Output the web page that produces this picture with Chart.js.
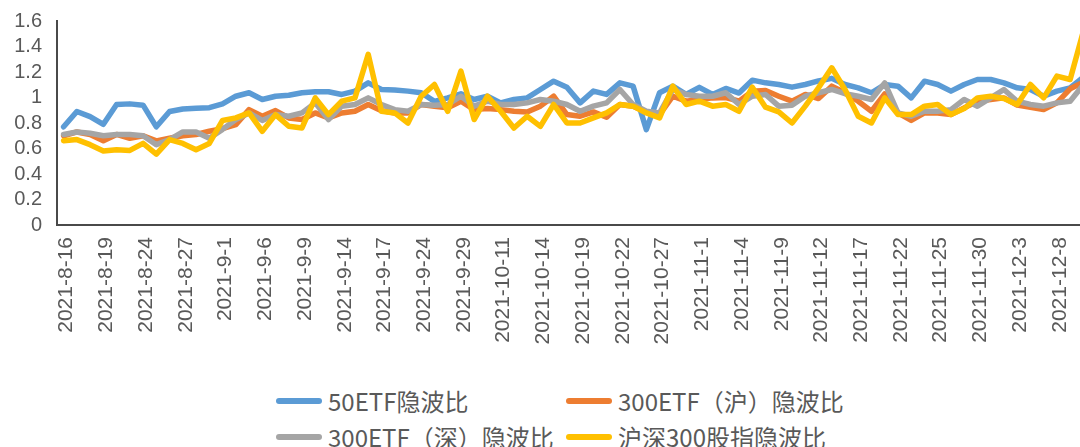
<!DOCTYPE html>
<html>
<head>
<meta charset="utf-8">
<script src="https://cdn.jsdelivr.net/npm/chart.js@4.4.1/dist/chart.umd.min.js"></script>
<style>
  html, body { margin: 0; padding: 0; background: #fff; }
  #wrap { position: relative; width: 1080px; height: 447px; overflow: hidden; background: #fff; }
  #box { position: absolute; left: 0; top: 0; width: 1090px; height: 345px; }
  .lg { position: absolute; font-family: "Noto Sans CJK SC", "Noto Sans", sans-serif; font-size: 24px; color: #595959; white-space: nowrap; line-height: 30px; }
  .lg i { position: absolute; left: -52px; top: 12px; width: 46px; height: 6px; border-radius: 3px; }
</style>
</head>
<body>
<div id="wrap">
  <div id="box"><canvas id="c"></canvas></div>
  <div id="legend"></div>
</div>
<script>
// ---- data ----
const categories = [
  "2021-8-16","2021-8-17","2021-8-18","2021-8-19","2021-8-20","2021-8-23","2021-8-24","2021-8-25","2021-8-26","2021-8-27",
  "2021-8-30","2021-8-31","2021-9-1","2021-9-2","2021-9-3","2021-9-6","2021-9-7","2021-9-8","2021-9-9","2021-9-10",
  "2021-9-13","2021-9-14","2021-9-15","2021-9-16","2021-9-17","2021-9-22","2021-9-23","2021-9-24","2021-9-27","2021-9-28",
  "2021-9-29","2021-9-30","2021-10-8","2021-10-11","2021-10-12","2021-10-13","2021-10-14","2021-10-15","2021-10-18","2021-10-19",
  "2021-10-20","2021-10-21","2021-10-22","2021-10-25","2021-10-26","2021-10-27","2021-10-28","2021-10-29","2021-11-1","2021-11-2",
  "2021-11-3","2021-11-4","2021-11-5","2021-11-8","2021-11-9","2021-11-10","2021-11-11","2021-11-12","2021-11-15","2021-11-16",
  "2021-11-17","2021-11-18","2021-11-19","2021-11-22","2021-11-23","2021-11-24","2021-11-25","2021-11-26","2021-11-29","2021-11-30",
  "2021-12-1","2021-12-2","2021-12-3","2021-12-6","2021-12-7","2021-12-8","2021-12-9","2021-12-10"
];
const seriesNames = ["50ETF隐波比", "300ETF（沪）隐波比", "300ETF（深）隐波比", "沪深300股指隐波比"];
const etf50 = [
  0.77,0.89,0.85,0.79,0.945,0.95,0.94,0.77,0.89,0.91,
  0.915,0.92,0.95,1.01,1.037,0.984,1.01,1.018,1.037,1.045,
  1.045,1.024,1.05,1.115,1.063,1.058,1.05,1.037,0.97,0.997,
  1.029,0.984,1.01,0.958,0.984,0.997,1.063,1.128,1.081,0.958,
  1.05,1.024,1.115,1.089,0.748,1.037,1.089,1.024,1.08,1.024,
  1.071,1.035,1.136,1.115,1.102,1.081,1.102,1.13,1.15,1.102,
  1.076,1.037,1.102,1.089,0.997,1.128,1.102,1.05,1.102,1.141,
  1.141,1.115,1.076,1.063,1.01,1.05,1.076,1.16
];
const etf300sh = [
  0.70,0.73,0.71,0.66,0.71,0.68,0.70,0.66,0.68,0.70,
  0.71,0.735,0.756,0.787,0.905,0.853,0.897,0.84,0.827,0.879,
  0.84,0.879,0.892,0.945,0.897,0.879,0.879,0.945,0.932,0.919,
  0.971,0.905,0.913,0.905,0.892,0.887,0.932,1.01,0.866,0.853,
  0.887,0.845,0.945,0.932,0.887,0.866,1.01,0.971,0.984,0.997,
  1.0,0.971,1.05,1.055,1.01,0.971,1.024,0.992,1.089,1.037,
  0.971,0.892,1.029,0.879,0.82,0.879,0.879,0.866,0.919,0.971,
  0.984,0.997,0.94,0.924,0.905,0.958,1.068,1.12
];
const etf300sz = [
  0.71,0.73,0.72,0.70,0.71,0.71,0.70,0.63,0.67,0.73,
  0.73,0.68,0.75,0.827,0.879,0.82,0.866,0.853,0.879,0.958,
  0.827,0.932,0.945,0.997,0.945,0.905,0.892,0.945,0.94,0.945,
  1.01,0.932,0.971,0.945,0.945,0.958,0.984,0.971,0.945,0.892,
  0.932,0.958,1.063,0.945,0.892,0.879,1.063,1.024,1.01,1.01,
  1.037,0.945,1.01,1.024,0.932,0.94,1.01,1.037,1.063,1.03,
  1.01,0.984,1.115,0.879,0.853,0.892,0.892,0.905,0.984,0.932,
  0.997,1.063,0.971,0.945,0.932,0.958,0.971,1.10
];
const index300 = [
  0.66,0.67,0.63,0.58,0.59,0.585,0.64,0.556,0.67,0.64,
  0.59,0.64,0.82,0.84,0.879,0.735,0.866,0.774,0.761,0.997,
  0.866,0.971,0.997,1.339,0.892,0.879,0.80,1.01,1.102,0.892,
  1.207,0.827,1.01,0.892,0.761,0.853,0.774,0.945,0.80,0.80,
  0.84,0.879,0.945,0.932,0.879,0.84,1.089,0.945,0.971,0.932,
  0.945,0.892,1.081,0.924,0.887,0.80,0.932,1.076,1.233,1.063,
  0.853,0.80,0.997,0.866,0.866,0.932,0.945,0.866,0.913,0.997,
  1.01,0.992,0.945,1.102,0.997,1.168,1.141,1.52
];
const yTicks = [0, 0.2, 0.4, 0.6, 0.8, 1, 1.2, 1.4, 1.6];
const labelEvery = 3;

// ---- styles ----
const colors = ["#5B9BD5", "#ED7D31", "#A5A5A5", "#FFC000"];
const values = [etf50, etf300sh, etf300sz, index300];

const datasets = values.map((v, k) => ({
  label: seriesNames[k],
  data: v,
  borderColor: colors[k],
  backgroundColor: colors[k],
  borderWidth: 5.5,
  pointRadius: 0,
  tension: 0,
  fill: false,
  borderJoinStyle: 'round',
  borderCapStyle: 'round',
  order: 4 - k
}));

new Chart(document.getElementById('c'), {
  type: 'line',
  data: { labels: categories, datasets },
  options: {
    responsive: true,
    maintainAspectRatio: false,
    animation: false,
    layout: { padding: { top: 21, right: 0, left: 0, bottom: 0 } },
    plugins: { legend: { display: false }, tooltip: { enabled: false } },
    scales: {
      x: {
        offset: true,
        grid: { display: false, drawTicks: false },
        border: { display: true, color: '#4a4a4a', width: 2 },
        ticks: {
          autoSkip: false,
          minRotation: 90,
          maxRotation: 90,
          padding: 12,
          labelOffset: 3,
          color: '#595959',
          font: { family: 'Liberation Sans', size: 21 },
          callback: function (v, i) { return i % labelEvery === 0 ? categories[i] : ''; }
        },
        afterFit: function (s) { s.height = 120; s.paddingLeft = 0; s.paddingRight = 0; }
      },
      y: {
        min: yTicks[0],
        max: yTicks[yTicks.length - 1],
        afterBuildTicks: function (s) { s.ticks = yTicks.map(v => ({ value: v })); },
        grid: { display: false, drawTicks: false },
        border: { display: true, color: '#4a4a4a', width: 2 },
        ticks: {
          autoSkip: false,
          padding: 15,
          color: '#595959',
          font: { family: 'Liberation Sans', size: 20 },
          callback: function (v) { return String(+Number(v).toFixed(1)); }
        },
        afterFit: function (s) { s.width = 57; s.paddingTop = 0; s.paddingBottom = 0; }
      }
    }
  }
});

// ---- legend (Excel-style grid) ----
const legendPos = [[328, 386], [618, 386], [328, 422], [618, 422]];
const lg = document.getElementById('legend');
seriesNames.forEach((name, k) => {
  const d = document.createElement('div');
  d.className = 'lg';
  d.style.left = legendPos[k][0] + 'px';
  d.style.top = legendPos[k][1] + 'px';
  const line = document.createElement('i');
  line.style.background = colors[k];
  d.appendChild(line);
  d.appendChild(document.createTextNode(name));
  lg.appendChild(d);
});
</script>
</body>
</html>
